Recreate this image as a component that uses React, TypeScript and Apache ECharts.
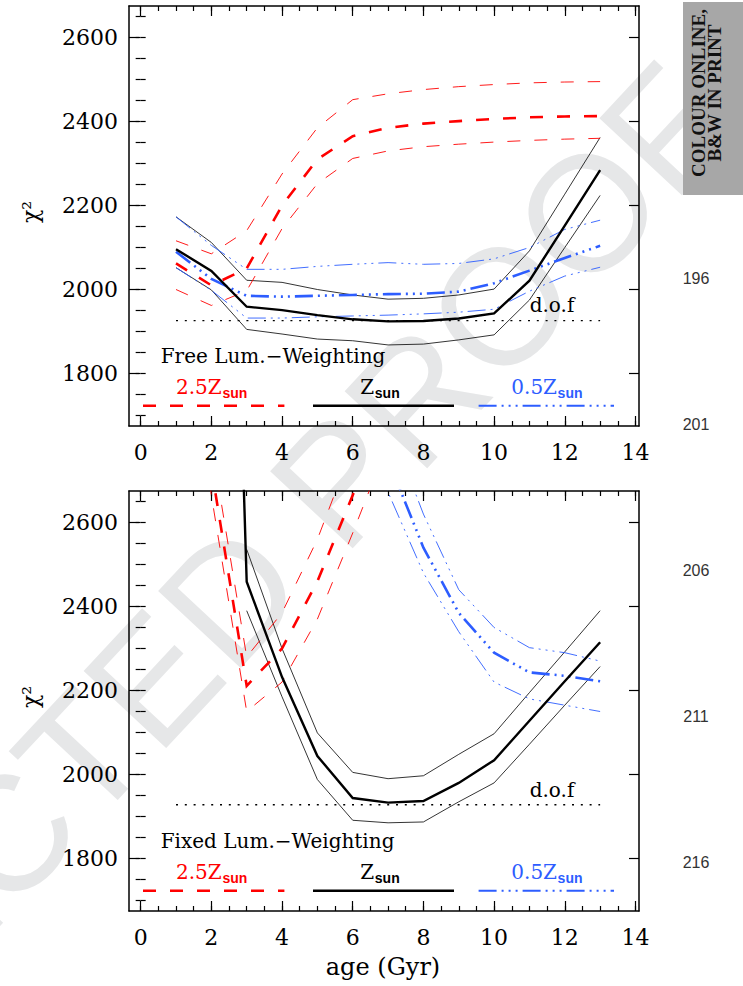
import { useEffect, useRef } from "react";
import * as echarts from "echarts";

// ---------- data ----------
const ages = [1, 2, 3, 4, 5, 6, 7, 8, 9, 10, 11, 12, 13];

// Free luminosity weighting (top panel)
const zsunFree = [2096, 2044, 1959, 1951, 1939, 1929, 1924, 1925, 1931, 1943, 2021, 2152, 2284];
const zsunFreeHi = [2173, 2112, 2022, 2017, 2000, 1987, 1977, 1979, 1987, 2001, 2092, 2227, 2362];
const zsunFreeLo = [2052, 1999, 1905, 1894, 1882, 1878, 1868, 1870, 1880, 1892, 1975, 2100, 2224];
const z25Free = [2062, 2010, 2050, 2200, 2310, 2365, 2385, 2395, 2401, 2406, 2410, 2412, 2413];
const z25FreeHi = [2116, 2085, 2140, 2275, 2385, 2452, 2466, 2476, 2483, 2488, 2492, 2494, 2495];
const z25FreeLo = [2000, 1962, 1997, 2145, 2252, 2312, 2330, 2340, 2346, 2351, 2355, 2358, 2360];
const z05Free = [2090, 2025, 1985, 1983, 1985, 1987, 1989, 1990, 1995, 2015, 2045, 2075, 2104];
const z05FreeHi = [2173, 2105, 2048, 2048, 2055, 2060, 2064, 2060, 2062, 2073, 2100, 2143, 2165];
const z05FreeLo = [2052, 1998, 1932, 1932, 1935, 1937, 1939, 1942, 1946, 1953, 1996, 2032, 2053];

// Fixed luminosity weighting (bottom panel)
const zsunFixed = [null, 5200, 2459, 2232, 2044, 1944, 1933, 1937, 1980, 2034, 2128, 2222, 2315];
const zsunFixedHi = [null, null, 2536, 2300, 2099, 2005, 1990, 1997, 2048, 2097, 2195, 2292, 2390];
const zsunFixedLo = [null, null, 2390, 2185, 1988, 1891, 1885, 1887, 1935, 1980, 2072, 2165, 2257];
const z25Fixed = [3500, 2730, 2211, 2300, 2460, 2665, 2880, null, null, null, null, null, null];
const z25FixedHi = [3600, 2790, 2280, 2385, 2560, 2780, 3000, null, null, null, null, null, null];
const z25FixedLo = [3400, 2665, 2150, 2220, 2370, 2575, 2790, null, null, null, null, null, null];
const z05Fixed = [null, null, null, null, null, 3050, 2750, 2540, 2385, 2290, 2243, 2235, 2222];
const z05FixedHi = [null, null, null, null, null, 3150, 2840, 2620, 2440, 2350, 2302, 2290, 2270];
const z05FixedLo = [null, null, null, null, null, 2950, 2672, 2480, 2340, 2220, 2180, 2165, 2150];

const dofAges = [1, 13];
const dofFree = 1926;
const dofFixed = 1928;

const xMajor = [0, 2, 4, 6, 8, 10, 12, 14];
const xMinor = [0, 0.5, 1, 1.5, 2, 2.5, 3, 3.5, 4, 4.5, 5, 5.5, 6, 6.5, 7, 7.5, 8, 8.5, 9, 9.5, 10, 10.5, 11, 11.5, 12, 12.5, 13, 13.5, 14];
const yMajor = [1800, 2000, 2200, 2400, 2600];
const yMinor = [1700, 1750, 1800, 1850, 1900, 1950, 2000, 2050, 2100, 2150, 2200, 2250, 2300, 2350, 2400, 2450, 2500, 2550, 2600, 2650];
const lineNumbers = ["196", "201", "206", "211", "216"];

// ---------- styles ----------
const RED = "#ff0000";
const BLUE = "#2d5dff";
const BLACK = "#000000";
const redDash = [13, 14];
const blueDash = [18, 5, 2, 5, 2, 5, 2, 5];
const dofDash = [2, 6.8];
const SERIF = '"DejaVu Serif"';
const X_MIN = -0.33;
const X_MAX = 14.1;
const Y_MIN = 1675;
const Y_MAX = 2675;

const grids = [
  { left: 129, top: 6, width: 510, height: 420 },
  { left: 129, top: 491, width: 510, height: 420 },
];

const plain = (v: number) => String(v);

function axesFor(g: number) {
  const base = {
    gridIndex: g,
    type: "value",
    splitLine: { show: false },
    minorTick: { show: false },
  };
  const lineOn = { show: true, onZero: false, lineStyle: { color: BLACK, width: 1.5 } };
  const tick = (vals: number[], len: number) => ({
    show: true,
    inside: true,
    length: len,
    customValues: vals,
    lineStyle: { color: BLACK, width: 1.2 },
  });
  const xs = [
    {
      ...base, min: X_MIN, max: X_MAX, position: "bottom",
      axisLine: lineOn, axisTick: tick(xMajor, 10),
      axisLabel: { show: true, customValues: xMajor, formatter: plain, margin: 15, fontFamily: SERIF, fontSize: 22, color: BLACK },
    },
    { ...base, min: X_MIN, max: X_MAX, position: "bottom", axisLine: { show: false }, axisTick: tick(xMinor, 5), axisLabel: { show: false } },
    { ...base, min: X_MIN, max: X_MAX, position: "top", axisLine: lineOn, axisTick: tick(xMajor, 10), axisLabel: { show: false } },
    { ...base, min: X_MIN, max: X_MAX, position: "top", axisLine: { show: false }, axisTick: tick(xMinor, 5), axisLabel: { show: false } },
  ];
  const ys = [
    {
      ...base, min: Y_MIN, max: Y_MAX, position: "left",
      axisLine: lineOn, axisTick: tick(yMajor, 10),
      axisLabel: { show: true, customValues: yMajor, formatter: plain, margin: 11, fontFamily: SERIF, fontSize: 22, color: BLACK },
    },
    { ...base, min: Y_MIN, max: Y_MAX, position: "left", axisLine: { show: false }, axisTick: tick(yMinor, 5), axisLabel: { show: false } },
    { ...base, min: Y_MIN, max: Y_MAX, position: "right", axisLine: lineOn, axisTick: tick(yMajor, 10), axisLabel: { show: false } },
    { ...base, min: Y_MIN, max: Y_MAX, position: "right", axisLine: { show: false }, axisTick: tick(yMinor, 5), axisLabel: { show: false } },
  ];
  return { xs, ys };
}

function series(g: number, xsArr: number[], ys: (number | null)[], color: string, width: number, type: any, z = 3) {
  const data = xsArr.map((a, i) => [a, ys[i]]).filter((p) => p[1] !== null && p[1] !== undefined);
  return {
    type: "line",
    xAxisIndex: g * 4,
    yAxisIndex: g * 4,
    data,
    symbol: "none",
    showSymbol: false,
    clip: true,
    silent: true,
    z,
    lineStyle: { color, width, type, cap: "butt", join: "miter" },
  };
}

function panelSeries(g: number, sets: any) {
  return [
    series(g, ages, sets.sunHi, BLACK, 0.8, "solid"),
    series(g, ages, sets.sunLo, BLACK, 0.8, "solid"),
    series(g, ages, sets.z25Hi, RED, 0.9, redDash),
    series(g, ages, sets.z25Lo, RED, 0.9, redDash),
    series(g, ages, sets.z05Hi, BLUE, 0.9, blueDash),
    series(g, ages, sets.z05Lo, BLUE, 0.9, blueDash),
    series(g, dofAges, [sets.dof, sets.dof], BLACK, 1.4, dofDash),
    series(g, ages, sets.z25, RED, 2.6, redDash, 4),
    series(g, ages, sets.z05, BLUE, 2.6, blueDash, 4),
    series(g, ages, sets.sun, BLACK, 2.4, "solid", 5),
  ];
}

function txt(x: number, y: number, text: string, font: string, fill: string, align: string, extra: any = {}) {
  return {
    type: "text",
    x,
    y,
    silent: true,
    z: 10,
    ...extra,
    style: { text, font, fill, textAlign: align, textVerticalAlign: "middle", align, verticalAlign: "middle" },
  };
}

function legendGraphics(dy: number, title: string) {
  const ly = 405.8 + dy;
  const main = `20px ${SERIF}`;
  const sub = 'bold 14px "Liberation Sans"';
  return [
    txt(160.7, 356 + dy, title, main, BLACK, "left"),
    txt(552, 305 + dy, "d.o.f", main, BLACK, "center"),
    { type: "line", silent: true, z: 10, shape: { x1: 143, y1: ly, x2: 284.4, y2: ly }, style: { stroke: RED, lineWidth: 2.4, lineDash: redDash } },
    { type: "line", silent: true, z: 10, shape: { x1: 313, y1: ly, x2: 454, y2: ly }, style: { stroke: BLACK, lineWidth: 2.6 } },
    { type: "line", silent: true, z: 10, shape: { x1: 478.6, y1: ly, x2: 614, y2: ly }, style: { stroke: BLUE, lineWidth: 2, lineDash: blueDash } },
    txt(221.7, 387 + dy, "2.5Z", main, RED, "right"),
    txt(222.5, 393.4 + dy, "sun", sub, RED, "left"),
    txt(374.2, 387 + dy, "Z", main, BLACK, "right"),
    txt(374.8, 393.4 + dy, "sun", sub, BLACK, "left"),
    txt(557, 387 + dy, "0.5Z", main, BLUE, "right"),
    txt(557.6, 393.4 + dy, "sun", sub, BLUE, "left"),
    txt(30, 212 + dy, "χ²", `22px ${SERIF}`, BLACK, "center", { rotation: Math.PI / 2 }),
  ];
}

function watermark() {
  const theta = (47 * Math.PI) / 180;
  const F = 164;
  const o1 = [501, 306];
  const shift = 3.306 * F;
  const ax = o1[0] - shift * Math.cos(theta);
  const ay = o1[1] + shift * Math.sin(theta);
  return {
    type: "text",
    x: ax,
    y: ay,
    rotation: theta,
    silent: true,
    z: -5,
    style: {
      text: "CORRECTED PROOF",
      font: `${F}px "Liberation Sans"`,
      fill: "#e6e7e8",
      textAlign: "center",
      textVerticalAlign: "middle",
      align: "center",
      verticalAlign: "middle",
    },
  };
}

function buildOption() {
  const a0 = axesFor(0);
  const a1 = axesFor(1);
  const top = panelSeries(0, {
    sun: zsunFree, sunHi: zsunFreeHi, sunLo: zsunFreeLo,
    z25: z25Free, z25Hi: z25FreeHi, z25Lo: z25FreeLo,
    z05: z05Free, z05Hi: z05FreeHi, z05Lo: z05FreeLo, dof: dofFree,
  });
  const bottom = panelSeries(1, {
    sun: zsunFixed, sunHi: zsunFixedHi, sunLo: zsunFixedLo,
    z25: z25Fixed, z25Hi: z25FixedHi, z25Lo: z25FixedLo,
    z05: z05Fixed, z05Hi: z05FixedHi, z05Lo: z05FixedLo, dof: dofFixed,
  });
  const lineNumYs = [278, 424, 570, 716, 862];
  const graphics: any[] = [
    watermark(),
    ...legendGraphics(0, "Free Lum.−Weighting"),
    ...legendGraphics(485, "Fixed Lum.−Weighting"),
    txt(383, 967, "age (Gyr)", `24px ${SERIF}`, BLACK, "center"),
    { type: "rect", silent: true, z: 10, shape: { x: 683, y: 2, width: 60, height: 193 }, style: { fill: "#a7a7a7" } },
    txt(698.5, 93, "COLOUR ONLINE,", 'bold 19px "Liberation Serif"', "#111111", "center", { rotation: Math.PI / 2, z: 11 }),
    txt(714.5, 93, "B&W IN PRINT", 'bold 19px "Liberation Serif"', "#111111", "center", { rotation: Math.PI / 2, z: 11 }),
    ...lineNumbers.map((t, i) => txt(696, lineNumYs[i], t, '16px "Liberation Sans"', "#333333", "center")),
  ];
  return {
    animation: false,
    backgroundColor: "#ffffff",
    grid: grids,
    xAxis: [...a0.xs, ...a1.xs],
    yAxis: [...a0.ys, ...a1.ys],
    series: [...top, ...bottom],
    graphic: { elements: graphics },
  };
}

export default function App() {
  const ref = useRef<HTMLDivElement>(null);
  useEffect(() => {
    document.body.style.margin = "0";
    const chart = echarts.init(ref.current as HTMLDivElement, undefined, { renderer: "svg", width: 743, height: 986 });
    chart.setOption(buildOption() as any);
    return () => chart.dispose();
  }, []);
  return <div ref={ref} style={{ width: 743, height: 986 }} />;
}
